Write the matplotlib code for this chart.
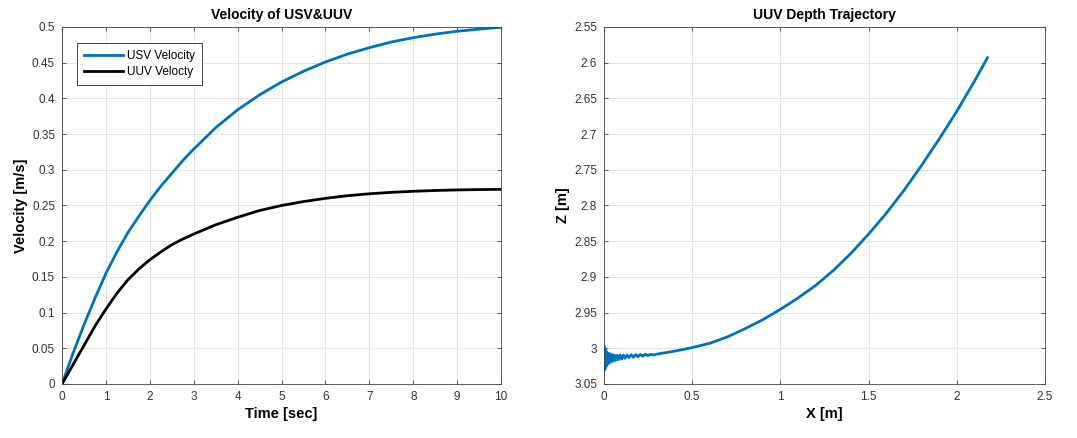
import numpy as np
import matplotlib.pyplot as plt
from matplotlib.ticker import FuncFormatter

plt.rcParams["font.family"] = ["Liberation Sans", "DejaVu Sans"]

# velocity response (time in sec, velocity in m/s)
time_s = [0, 0.25, 0.5, 0.75, 1, 1.25, 1.5, 1.75, 2, 2.25, 2.5, 2.75, 3,
          3.5, 4, 4.5, 5, 5.5, 6, 6.5, 7, 7.5, 8, 8.5, 9, 9.5, 10]
usv_vel = [0, 0.043, 0.083, 0.120, 0.155, 0.185, 0.212, 0.235, 0.257,
           0.277, 0.295, 0.313, 0.329, 0.359, 0.384, 0.405, 0.423, 0.438,
           0.451, 0.462, 0.471, 0.479, 0.485, 0.490, 0.494, 0.497, 0.4995]
uuv_vel = [0, 0.027, 0.054, 0.081, 0.105, 0.127, 0.146, 0.161, 0.174,
           0.185, 0.195, 0.203, 0.210, 0.223, 0.2335, 0.243, 0.250, 0.2555,
           0.260, 0.2637, 0.2664, 0.2684, 0.2699, 0.271, 0.2718, 0.2723,
           0.2726]

# depth trajectory of the UUV (x and z in m)
traj_x = [0.000, 0.002, 0.004, 0.006, 0.008, 0.010, 0.013, 0.016, 0.019,
          0.022, 0.026, 0.030, 0.035, 0.040, 0.046, 0.052, 0.059, 0.066,
          0.074, 0.082, 0.091, 0.100, 0.110, 0.120, 0.131, 0.142, 0.154,
          0.166, 0.179, 0.192, 0.206, 0.220, 0.235, 0.250, 0.266, 0.283,
          0.30, 0.40, 0.50, 0.60, 0.70, 0.80, 0.90, 1.00, 1.10, 1.20,
          1.30, 1.40, 1.50, 1.60, 1.70, 1.80, 1.90, 2.00, 2.10, 2.174]
traj_z = [2.997, 3.031, 2.999, 3.029, 3.002, 3.026, 3.004, 3.024, 3.006,
          3.022, 3.007, 3.020, 3.008, 3.019, 3.009, 3.018, 3.0095, 3.017,
          3.010, 3.016, 3.0095, 3.015, 3.0095, 3.014, 3.0095, 3.013, 3.009,
          3.0125, 3.0088, 3.0118, 3.0086, 3.011, 3.0085, 3.0102, 3.0083,
          3.0094, 3.0082, 3.004, 2.999, 2.993, 2.984, 2.9725, 2.960, 2.9455,
          2.9295, 2.912, 2.891, 2.867, 2.840, 2.811, 2.779, 2.744, 2.707,
          2.668, 2.626, 2.593]

BLUE = "#0072BD"
TICK_GRAY = "#333333"


def matlab_style(ax):
    ax.grid(True, color="#e3e3e3", linewidth=0.7)
    ax.set_axisbelow(True)
    ax.tick_params(direction="in", top=True, right=True, length=3,
                   width=0.6, labelsize=8.5, labelcolor=TICK_GRAY,
                   color="#444444", pad=5)
    for s in ax.spines.values():
        s.set_linewidth(0.6)
        s.set_color("#444444")
    fmt = FuncFormatter(lambda v, p: "%g" % round(v, 4))
    ax.xaxis.set_major_formatter(fmt)
    ax.yaxis.set_major_formatter(fmt)


fig = plt.figure(figsize=(10.77, 4.38), dpi=100)
ax1 = fig.add_axes([0.0576, 0.1233, 0.4077, 0.8151])
ax2 = fig.add_axes([0.5608, 0.1233, 0.4095, 0.8151])

ax1.plot(time_s, usv_vel, color=BLUE, linewidth=2.0, label="USV Velocity")
ax1.plot(time_s, uuv_vel, color="black", linewidth=2.0, label="UUV Velocty")
ax1.set_xlim(0, 10)
ax1.set_ylim(0, 0.5)
ax1.set_xticks(np.arange(0, 11, 1))
ax1.set_yticks(np.arange(0, 0.501, 0.05))
matlab_style(ax1)
ax1.set_title("Velocity of USV&UUV", fontsize=10, fontweight="bold", pad=6)
ax1.set_xlabel("Time [sec]", fontsize=10.5, fontweight="bold", labelpad=3)
ax1.set_ylabel("Velocity [m/s]", fontsize=10.5, fontweight="bold", labelpad=3)
leg = ax1.legend(loc="upper left", bbox_to_anchor=(0.035, 0.955), fontsize=8.5,
                 fancybox=False, framealpha=1, edgecolor="#444444",
                 handlelength=3.3, handletextpad=0.3, borderpad=0.6,
                 labelspacing=0.35, borderaxespad=0)
leg.get_frame().set_linewidth(0.7)

ax2.plot(traj_x, traj_z, color=BLUE, linewidth=2.0)
ax2.set_xlim(0, 2.5)
ax2.set_ylim(3.05, 2.55)
ax2.set_xticks(np.arange(0, 2.51, 0.5))
ax2.set_yticks(np.arange(2.55, 3.051, 0.05))
matlab_style(ax2)
ax2.set_title("UUV Depth Trajectory", fontsize=10, fontweight="bold", pad=6)
ax2.set_xlabel("X [m]", fontsize=10.5, fontweight="bold", labelpad=3)
ax2.set_ylabel("Z [m]", fontsize=10.5, fontweight="bold", labelpad=3)

fig.savefig("out.png", dpi=100)
